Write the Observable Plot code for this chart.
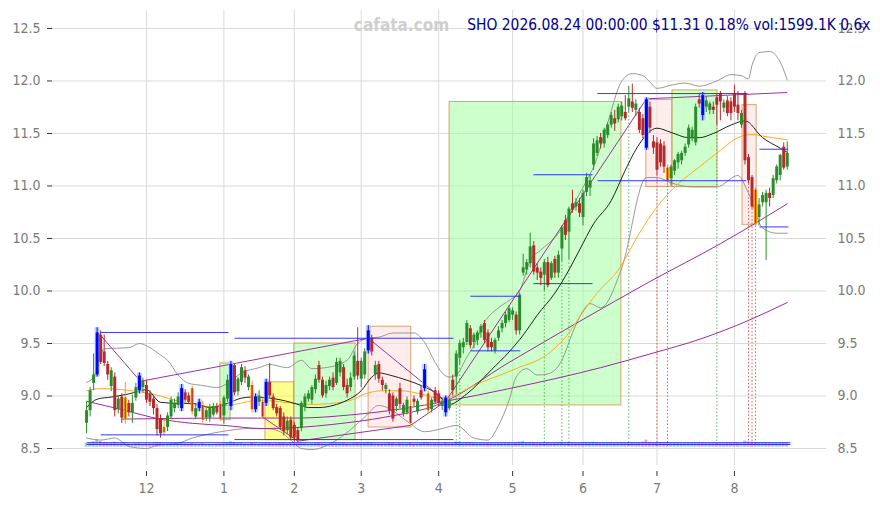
<!DOCTYPE html>
<html><head><meta charset="utf-8">
<script src="https://cdn.jsdelivr.net/npm/d3@7"></script>
<script src="https://cdn.jsdelivr.net/npm/@observablehq/plot@0.6"></script>
<style>
body{margin:0;background:#fff;}
#chart{width:880px;height:505px;overflow:hidden;}
</style></head><body><div id="chart"></div>
<script>
// ---------- data ----------
const titleText = "SHO 2026.08.24 00:00:00 $11.31 0.18% vol:1599.1K 0.6x";
const watermark = "cafata.com";
const monthTickIdx = [17,39,59,78,100,121,141,162,184];
const monthTickLabels = ["12","1","2","3","4","5","6","7","8"];
const priceTicks = [8.5,9,9.5,10,10.5,11,11.5,12,12.5];

// daily candles [open, high, low, close]
const candles = [
[8.74,8.94,8.64,8.86],[8.86,9.08,8.80,9.05],[9.12,9.40,9.05,9.20],[9.20,9.65,9.18,9.60],[9.58,9.62,9.30,9.32],
[9.42,9.58,9.28,9.31],[9.30,9.33,9.15,9.20],[9.09,9.27,9.04,9.24],[9.18,9.22,8.80,8.86],[8.87,9.00,8.83,8.97],
[8.99,9.02,8.74,8.79],[8.78,9.13,8.73,8.98],[8.93,8.96,8.80,8.84],[8.84,9.01,8.74,8.93],[8.98,9.12,8.95,9.08],
[9.19,9.22,9.02,9.05],[9.08,9.17,9.03,9.14],[9.10,9.15,8.93,8.96],[9.02,9.05,8.90,8.94],[8.97,9.00,8.82,8.88],
[8.88,8.92,8.62,8.68],[8.78,8.82,8.60,8.64],[8.65,8.78,8.62,8.70],[8.70,8.84,8.66,8.81],[8.80,8.99,8.78,8.96],
[8.88,8.97,8.84,8.93],[8.91,9.03,8.88,8.99],[8.88,9.11,8.85,9.07],[9.03,9.06,8.94,8.96],[9.00,9.03,8.92,8.94],
[9.07,9.09,8.82,8.85],[8.80,8.92,8.78,8.88],[8.88,8.97,8.85,8.94],[8.91,8.95,8.74,8.77],[8.79,8.88,8.76,8.86],
[8.79,8.92,8.75,8.89],[8.82,8.93,8.80,8.90],[8.90,8.93,8.82,8.84],[8.92,8.95,8.76,8.78],[8.81,9.00,8.73,8.98],
[8.97,9.20,8.94,9.15],[8.90,9.33,8.86,9.30],[9.29,9.31,9.00,9.03],[9.04,9.18,9.00,9.16],[9.13,9.30,9.10,9.27],
[9.24,9.28,9.12,9.17],[9.08,9.20,9.05,9.18],[9.10,9.14,8.84,8.87],[8.87,9.02,8.84,8.99],[8.94,9.05,8.90,9.00],
[8.94,8.98,8.78,8.80],[8.93,9.16,8.90,9.13],[9.13,9.31,8.98,9.00],[8.99,9.02,8.86,8.88],[8.89,8.92,8.80,8.83],
[8.88,8.90,8.67,8.70],[8.80,8.84,8.62,8.66],[8.67,8.80,8.63,8.76],[8.77,8.80,8.58,8.60],[8.72,8.75,8.56,8.60],
[8.67,8.70,8.56,8.58],[8.69,8.95,8.66,8.93],[8.89,9.02,8.85,8.99],[8.97,9.05,8.94,9.02],[8.96,9.10,8.92,9.08],
[9.06,9.20,9.02,9.16],[9.29,9.33,9.12,9.15],[9.15,9.18,8.98,9.00],[9.02,9.14,8.98,9.10],[9.09,9.18,9.05,9.15],
[9.17,9.22,9.05,9.08],[9.12,9.36,9.10,9.32],[9.22,9.36,9.18,9.33],[9.27,9.30,9.05,9.08],[9.10,9.16,8.98,9.02],
[9.08,9.22,9.04,9.17],[9.18,9.42,9.15,9.38],[9.33,9.65,9.15,9.19],[9.16,9.36,9.08,9.33],[9.20,9.45,9.16,9.42],
[9.43,9.67,9.40,9.62],[9.55,9.58,9.38,9.42],[9.20,9.33,9.15,9.29],[9.30,9.33,9.12,9.16],[9.15,9.18,9.05,9.10],
[9.06,9.12,9.02,9.10],[9.02,9.06,8.82,8.86],[9.00,9.03,8.75,8.78],[8.90,8.99,8.85,8.97],[9.07,9.12,8.88,8.92],
[8.83,8.93,8.80,8.91],[8.84,8.99,8.82,8.96],[8.90,8.95,8.71,8.74],[8.97,9.00,8.90,8.94],[8.85,8.97,8.82,8.95],
[9.05,9.10,8.96,8.98],[9.07,9.30,9.04,9.25],[9.02,9.05,8.83,8.86],[8.87,8.98,8.84,8.96],[9.05,9.08,8.92,8.94],
[9.02,9.05,8.90,8.93],[8.90,8.98,8.86,8.95],[8.98,9.00,8.80,8.84],[8.88,8.98,8.86,8.96],[9.15,9.20,9.00,9.05],
[9.18,9.43,9.02,9.40],[9.36,9.53,9.30,9.50],[9.46,9.55,9.40,9.51],[9.51,9.72,9.48,9.69],[9.64,9.67,9.45,9.48],
[9.51,9.60,9.45,9.58],[9.53,9.62,9.48,9.60],[9.60,9.68,9.55,9.66],[9.69,9.72,9.50,9.53],[9.60,9.63,9.42,9.46],
[9.51,9.55,9.42,9.46],[9.43,9.55,9.40,9.53],[9.55,9.66,9.52,9.62],[9.64,9.72,9.60,9.69],[9.69,9.80,9.65,9.77],
[9.72,9.86,9.70,9.83],[9.77,9.84,9.72,9.81],[9.77,9.80,9.58,9.62],[9.62,9.98,9.58,9.96],[10.17,10.35,10.14,10.22],
[10.20,10.30,10.15,10.27],[10.26,10.55,10.22,10.42],[10.43,10.47,10.15,10.18],[10.22,10.26,10.10,10.17],[10.18,10.22,10.05,10.12],
[10.15,10.30,10.00,10.27],[10.27,10.32,10.03,10.05],[10.12,10.28,10.10,10.26],[10.30,10.33,10.12,10.17],[10.17,10.38,10.12,10.34],
[10.40,10.62,10.28,10.60],[10.67,10.72,10.48,10.53],[10.56,10.80,10.30,10.78],[10.83,10.96,10.74,10.77],[10.80,10.88,10.76,10.84],
[10.83,10.88,10.70,10.74],[10.70,10.96,10.62,10.93],[10.94,11.12,10.90,11.08],[10.98,11.10,10.90,11.05],[11.20,11.45,11.15,11.40],
[11.31,11.47,11.28,11.43],[11.46,11.50,11.35,11.40],[11.40,11.55,11.36,11.53],[11.48,11.60,11.45,11.58],[11.58,11.70,11.55,11.67],
[11.64,11.72,11.52,11.59],[11.63,11.78,11.60,11.75],[11.66,11.80,11.62,11.76],[11.70,11.86,11.62,11.64],[11.75,11.95,11.70,11.83],
[11.80,11.97,11.70,11.74],[11.72,11.82,11.66,11.78],[11.70,11.74,11.50,11.53],[11.64,11.68,11.45,11.48],[11.82,11.84,11.34,11.36],
[11.75,11.80,11.50,11.55],[11.42,11.48,11.30,11.36],[11.41,11.46,11.10,11.15],[11.40,11.44,11.18,11.22],[11.38,11.42,11.12,11.18],
[11.17,11.20,11.00,11.05],[11.07,11.20,11.00,11.18],[11.14,11.25,11.10,11.24],[11.22,11.32,11.16,11.30],[11.24,11.33,11.20,11.31],
[11.31,11.40,11.28,11.37],[11.39,11.58,11.36,11.55],[11.45,11.56,11.42,11.53],[11.41,11.78,11.38,11.75],[11.82,11.88,11.74,11.78],
[11.86,11.89,11.62,11.67],[11.75,11.85,11.70,11.81],[11.72,11.80,11.68,11.78],[11.75,11.80,11.68,11.72],[11.84,11.87,11.58,11.77],
[11.88,11.90,11.62,11.80],[11.74,11.82,11.70,11.79],[11.81,11.85,11.66,11.69],[11.80,11.84,11.62,11.69],[11.88,11.96,11.70,11.75],
[11.77,11.90,11.62,11.69],[11.58,11.72,11.55,11.69],[11.88,11.90,11.20,11.24],[11.27,11.30,11.02,11.05],[11.08,11.10,10.78,10.80],
[10.96,10.98,10.62,10.64],[10.70,10.88,10.62,10.82],[10.84,10.94,10.80,10.91],[10.84,10.96,10.29,10.93],[10.93,10.98,10.80,10.88],
[10.91,11.10,10.88,11.07],[11.05,11.20,11.02,11.18],[11.10,11.30,11.05,11.29],[11.37,11.41,11.15,11.17],[11.18,11.42,11.15,11.31]
];

// volume, thousands
const volumes = [
1450,1620,1980,2850,2100,1700,1500,1380,1820,1290,
1350,1600,1250,1180,1300,1420,1150,1260,1210,1330,
1750,1640,1280,1190,1360,1220,1170,1400,1150,1090,
1380,1120,1050,1260,980,1010,940,1080,1150,1230,
1510,1980,1620,1240,1330,1120,1060,1450,1180,1090,
1260,1390,1420,1180,1250,1480,1530,1290,1570,1510,
1450,1690,1320,1200,1260,1410,1380,1240,1120,1180,
1250,1520,1300,1380,1210,1150,1470,1620,1290,1440,
1780,1540,1260,1180,1150,1230,1520,1480,1160,1330,
1240,1190,1560,1120,1170,1280,1590,1460,1210,1300,
1250,1180,1650,1230,1310,1920,1740,1390,1680,1550,
1340,1260,1410,1450,1380,1270,1300,1350,1420,1480,
1510,1390,1560,1880,2150,1620,1740,1690,1450,1380,
1520,1610,1480,1420,1590,1870,1640,1780,1550,1430,
1390,1620,1740,1520,1800,1680,1450,1500,1560,1610,
1480,1620,1590,1670,1720,1690,1540,1610,1880,2600,
1720,1580,1660,1540,1620,1710,1420,1380,1450,1400,
1390,1520,1430,1610,1480,1560,1410,1390,1450,1520,
1480,1440,1560,1510,1590,1530,1400,2200,1960,1880,
1790,1650,1540,1720,1580,1490,1520,1560,1610,1599.1
];

const blueCandles = [3,15,27,32,41,48,51,80,96,102,159,175];
const orangeCandles = [11,22,30,33,38,47,50,92,97,165,190];
const buySignals = [105,106,130,135,137,154,179];
const sellSignals = [162,165,188,189,190];

// indicator lines: [bar index, price]
const ma20Pts = [[0,8.89],[3,8.97],[7,8.99],[12,9.02],[17,9.06],[21,8.94],[26,8.93],[30,8.93],[35,8.89],[40,8.93],[44,8.98],[47,8.99],[52,8.98],[58,8.94],[61,8.91],[63,8.89],[66,8.89],[70,8.91],[74,8.96],[78,9.05],[81,9.18],[83,9.22],[86,9.20],[91,9.15],[95,9.10],[99,9.03],[101,8.97],[103,8.92],[108,9.02],[115,9.25],[120,9.42],[124,9.58],[128,9.77],[133,9.98],[137,10.20],[140,10.39],[144,10.64],[149,10.86],[153,11.15],[157,11.40],[162,11.55],[166,11.51],[171,11.46],[174,11.46],[178,11.50],[183,11.58],[187,11.62],[192,11.46],[197,11.36],[199,11.32]];
const ma50Pts = [[0,9.05],[4,9.07],[10,9.06],[15,9.04],[21,9.00],[26,8.95],[35,8.90],[42,8.92],[49,8.96],[59,8.93],[64,8.92],[74,8.95],[80,9.03],[84,9.05],[89,9.05],[95,9.02],[100,8.98],[103,8.99],[110,9.10],[122,9.26],[131,9.40],[137,9.60],[140,9.75],[145,9.98],[151,10.20],[157,10.55],[162,10.80],[168,11.02],[174,11.18],[180,11.34],[185,11.46],[189,11.49],[193,11.47],[199,11.44]];
const bbUpperPts = [[0,9.13],[2,9.18],[5,9.45],[12,9.46],[15,9.50],[18,9.46],[21,9.39],[23,9.34],[26,9.20],[29,9.12],[33,9.10],[37,9.08],[40,9.12],[44,9.22],[49,9.27],[52,9.30],[57,9.27],[61,9.34],[64,9.26],[68,9.27],[74,9.34],[77,9.50],[80,9.55],[83,9.56],[87,9.60],[93,9.60],[96,9.51],[99,9.32],[101,9.22],[103,9.18],[105,9.20],[108,9.37],[110,9.48],[113,9.70],[117,9.84],[120,9.91],[123,10.00],[126,10.29],[129,10.39],[133,10.51],[137,10.70],[139,10.86],[142,11.05],[144,11.18],[148,11.60],[152,12.00],[155,12.07],[158,12.05],[160,11.99],[162,11.93],[166,11.96],[170,11.98],[174,11.95],[179,12.00],[183,12.06],[186,12.05],[188,12.02],[189,12.15],[191,12.27],[194,12.28],[197,12.18],[199,12.01]];
const bbLowerPts = [[0,8.60],[4,8.58],[8,8.60],[12,8.52],[17,8.50],[20,8.53],[26,8.55],[30,8.60],[35,8.64],[40,8.67],[46,8.69],[51,8.69],[55,8.66],[58,8.58],[61,8.50],[64,8.49],[70,8.56],[75,8.68],[79,8.80],[83,8.91],[86,8.88],[91,8.76],[96,8.66],[101,8.69],[105,8.72],[110,8.60],[114,8.58],[117,8.72],[120,8.96],[122,9.18],[125,9.26],[128,9.20],[131,9.21],[135,9.34],[138,9.60],[141,9.81],[143,9.88],[146,9.84],[152,10.22],[159,11.08],[162,11.08],[166,11.03],[172,10.99],[179,10.99],[185,11.10],[188,10.93],[192,10.60],[196,10.55],[199,10.55]];
const maLongAPts = [[0,8.95],[10,8.87],[21,8.78],[30,8.74],[39,8.72],[50,8.69],[60,8.70],[70,8.73],[85,8.80],[100,8.92],[120,9.32],[140,9.71],[160,10.09],[180,10.45],[199,10.83]];
const maLongBPts = [[10,8.78],[40,8.79],[60,8.79],[75,8.82],[90,8.88],[102,8.95],[120,9.07],[146,9.27],[160,9.40],[175,9.55],[188,9.72],[199,9.89]];

// trend lines [i1, p1, i2, p2]
const trendLines = [[3.4,9.60,15.3,9.14],[15.3,9.14,80,9.55],[80,9.55,102,8.95],[50,8.80,60,8.57],[60,8.57,92,8.72],[92,8.72,102,8.95],[102,8.95,159,11.83],[159,11.83,199,11.89]];
// horizontal levels [i1, i2, price]
const levels = [[4,40.3,9.605],[42,104.2,9.55],[4,40.3,8.63],[42,104.2,8.585],[0,199.9,8.555],[0,199.9,8.538],[109,123.2,9.95],[109,123.2,9.43],[126.9,143.7,11.107],[126.9,143.7,10.07],[145.1,187.7,11.88],[145.1,187.4,11.05],[191.1,199.3,11.35],[191.1,199.3,10.61]];
// zones [i1, i2, low, high, kind]
const zones = [[38.0,40.9,8.77,9.31,"up"],[50.8,59.0,8.58,9.13,"flat"],[59.0,76.4,8.58,9.50,"up"],[80.1,92.2,8.70,9.66,"down"],[103.1,151.9,8.91,11.80,"up"],[159.0,166.4,10.99,11.82,"down"],[166.4,179.2,10.99,11.91,"up"],[186.3,190.3,10.63,11.77,"down"]];

// ---------- build ----------
const blueSet = new Set(blueCandles), orangeSet = new Set(orangeCandles);
const bars = candles.map(([o,h,l,c], i) => ({i, o, h, l, c, v: volumes[i], up: c >= o}));
const GREEN = "#2a8c2a", RED = "#b52a2a";
const baseColor = d => d.up ? GREEN : RED;
const candleColor = d => blueSet.has(d.i) ? "#0000ff" : orangeSet.has(d.i) ? "#ff9a00" : baseColor(d);
const vmax = d3.max(volumes);
const volBase = 8.512, volSpan = 0.075;
const zoneFill = {up: "#99ff99", flat: "#ffff33", down: "#ffdddd"};
const zoneOpacity = {up: 0.5, flat: 0.55, down: 0.55};
const signals = [...buySignals.map(i => ({i, kind: "buy"})), ...sellSignals.map(i => ({i, kind: "sell"}))];

const font = '"DejaVu Sans Condensed","DejaVu Sans",sans-serif';
const lbl = d => d.toFixed(1);

const chart = Plot.plot({
  width: 880, height: 505,
  marginLeft: 52, marginRight: 54, marginTop: 10, marginBottom: 34,
  x: {domain: [-9.68, 210.15], axis: null, label: null},
  y: {domain: [8.281, 12.671], axis: null, label: null},
  style: {fontFamily: font, background: "#fff", overflow: "visible"},
  marks: [
    Plot.gridY({ticks: priceTicks, stroke: "#dadada", strokeOpacity: 1}),
    Plot.gridX({ticks: monthTickIdx, stroke: "#dadada", strokeOpacity: 1, insetBottom: 6}),
    // zones
    Plot.rect(zones, {x1: d => d[0], x2: d => d[1], y1: d => d[2], y2: d => d[3],
      fill: d => zoneFill[d[4]], fillOpacity: d => zoneOpacity[d[4]], stroke: "#d08a45", strokeOpacity: 0.75, strokeWidth: 1}),
    // volume
    Plot.rect(bars, {x1: d => d.i - 0.42, x2: d => d.i + 0.42, y1: volBase, y2: d => volBase + d.v / vmax * volSpan,
      fill: d => d.up ? "#6cc46c" : "#e07a8a", fillOpacity: 0.65}),
    // signal verticals
    Plot.ruleX(signals, {x: "i", y1: d => candles[d.i][2], y2: 8.52,
      stroke: d => d.kind === "buy" ? "#3fae3f" : "#d04848", strokeWidth: 1, strokeDasharray: "1.5,2", strokeOpacity: 0.85}),
    // bands and averages
    Plot.line(bbUpperPts, {x: d => d[0], y: d => d[1], stroke: "#8c8c8c", strokeWidth: 0.9, curve: "monotone-x"}),
    Plot.line(bbLowerPts, {x: d => d[0], y: d => d[1], stroke: "#8c8c8c", strokeWidth: 0.9, curve: "monotone-x"}),
    Plot.line(maLongAPts, {x: d => d[0], y: d => d[1], stroke: "#9b2c9b", strokeWidth: 1, curve: "monotone-x"}),
    Plot.line(maLongBPts, {x: d => d[0], y: d => d[1], stroke: "#9b2c9b", strokeWidth: 1, curve: "monotone-x"}),
    Plot.line(ma50Pts, {x: d => d[0], y: d => d[1], stroke: "#ffaa22", strokeWidth: 1, curve: "monotone-x"}),
    Plot.line(ma20Pts, {x: d => d[0], y: d => d[1], stroke: "#222", strokeWidth: 1, curve: "monotone-x"}),
    // trend lines
    Plot.link(trendLines, {x1: d => d[0], y1: d => d[1], x2: d => d[2], y2: d => d[3], stroke: "#a030a0", strokeWidth: 1}),
    // candles
    Plot.ruleX(bars.filter(d => blueSet.has(d.i)), {x: "i", y1: "l", y2: "h", stroke: "#a8c8ff", strokeWidth: 5, strokeOpacity: 0.8}),
    Plot.ruleX(bars, {x: "i", y1: "l", y2: "h", stroke: candleColor, strokeWidth: 1}),
    Plot.ruleX(bars, {x: "i", y1: "o", y2: "c", stroke: candleColor, strokeWidth: 3}),
    Plot.ruleX(bars.filter(d => orangeSet.has(d.i)), {x: "i", y1: "o", y2: "c", stroke: baseColor, strokeWidth: 1.2}),
    // levels
    Plot.link(levels, {x1: d => d[0], x2: d => d[1], y1: d => d[2], y2: d => d[2], stroke: "#2020ff", strokeWidth: 1, strokeOpacity: 0.9}),
    // axes
    Plot.axisY({anchor: "left", ticks: priceTicks, tickSize: 5, tickFormat: () => "", stroke: "#333", label: null}),
    Plot.axisY({anchor: "left", ticks: priceTicks, tickSize: 0, tickPadding: 12, tickFormat: lbl, fill: "#7a7a7a", fontSize: 14, label: null}),
    Plot.axisY({anchor: "right", ticks: priceTicks, tickSize: 0, tickPadding: 11, tickFormat: lbl, fill: "#7a7a7a", fontSize: 14, label: null}),
    Plot.axisX({anchor: "bottom", ticks: monthTickIdx, tickSize: 5, tickFormat: () => "", stroke: "#333", label: null}),
    Plot.axisX({anchor: "bottom", ticks: monthTickIdx, tickSize: 0, tickPadding: 12, label: null,
      tickFormat: d => monthTickLabels[monthTickIdx.indexOf(d)], fill: "#7a7a7a", fontSize: 14}),
    // texts
    Plot.text([watermark], {text: d => d, frameAnchor: "top", dx: -38, dy: 15, lineAnchor: "middle",
      fill: "#cfcfcf", fontWeight: "bold", fontSize: 17}),
    Plot.text([titleText], {text: d => d, frameAnchor: "top-right", textAnchor: "end", dx: 44, dy: 15, lineAnchor: "middle",
      fill: "#00008b", fontSize: 15.4})
  ]
});
document.getElementById("chart").appendChild(chart);
</script>
</body></html>
